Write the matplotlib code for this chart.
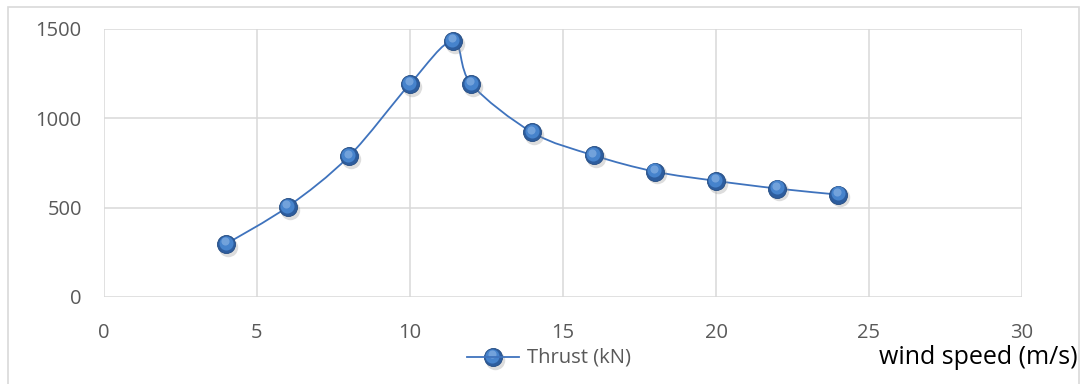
import matplotlib
matplotlib.use('Agg')
import matplotlib.pyplot as plt
from matplotlib.path import Path
from matplotlib.patches import PathPatch, Rectangle
from matplotlib.lines import Line2D
from matplotlib import transforms

# wind speed (m/s) and thrust (kN)
wind_speed = [4, 6, 8, 10, 11.4, 12, 14, 16, 18, 20, 22, 24]
thrust = [298, 505, 787, 1193, 1432, 1192, 921, 793, 702, 650, 607, 573]

x_ticks = [0, 5, 10, 15, 20, 25, 30]
y_ticks = [0, 500, 1000, 1500]

LINE = '#3f73bd'
GRID = '#d9d9d9'
TICK = '#595959'
FONT = ['Open Sans', 'DejaVu Sans']


def smooth_path(xs, ys):
    # Excel-style smoothed line: cubic Bezier through each point
    verts = [(xs[0], ys[0])]
    codes = [Path.MOVETO]
    n = len(xs)
    for i in range(n - 1):
        x0, y0 = (xs[i - 1], ys[i - 1]) if i > 0 else (xs[i], ys[i])
        x1, y1 = xs[i], ys[i]
        x2, y2 = xs[i + 1], ys[i + 1]
        x3, y3 = (xs[i + 2], ys[i + 2]) if i + 2 < n else (x2, y2)
        c1 = (x1 + (x2 - x0) / 6, y1 + (y2 - y0) / 6)
        c2 = (x2 - (x3 - x1) / 6, y2 - (y3 - y1) / 6)
        verts += [c1, c2, (x2, y2)]
        codes += [Path.CURVE4] * 3
    return Path(verts, codes)


def spheres(ax, xs, ys, size, trans=None, zorder=4):
    # fake 3D ball: shadow, dark rim, lighter body, soft highlight
    base = trans if trans is not None else ax.transData
    fig = ax.figure
    shadow = transforms.offset_copy(base, fig=fig, x=1.5, y=-2.0, units='points')
    mid = transforms.offset_copy(base, fig=fig, x=-0.5, y=0.9, units='points')
    hi = transforms.offset_copy(base, fig=fig, x=-0.8, y=2.0, units='points')
    ax.plot(xs, ys, 'o', ms=size + 1, color='#8f8f8f', alpha=0.3, mec='none',
            transform=shadow, zorder=zorder, clip_on=False)
    ax.plot(xs, ys, 'o', ms=size, color='#2d5d9e', mec='#244c82', mew=0.6,
            transform=base, zorder=zorder + 0.1, clip_on=False)
    ax.plot(xs, ys, 'o', ms=size * 0.78, color='#4683cc', mec='none',
            transform=mid, zorder=zorder + 0.2, clip_on=False)
    ax.plot(xs, ys, 'o', ms=size * 0.45, color='#7eaae0', mec='none', alpha=0.8,
            transform=hi, zorder=zorder + 0.3, clip_on=False)


fig = plt.figure(figsize=(10.83, 3.84), dpi=100)
ax = fig.add_axes([104 / 1083, 1 - 297 / 384, (1022 - 104) / 1083, (297 - 29) / 384])

ax.set_xlim(0, 30)
ax.set_ylim(0, 1500)
ax.set_xticks(x_ticks)
ax.set_yticks(y_ticks)
ax.grid(True, color=GRID, linewidth=1.1)
ax.set_axisbelow(True)
for s in ax.spines.values():
    s.set_visible(False)
ax.tick_params(length=0, labelsize=14.5, labelcolor=TICK)
ax.tick_params(axis='x', pad=19)
ax.tick_params(axis='y', pad=16)
for lab in ax.get_xticklabels() + ax.get_yticklabels():
    lab.set_family(FONT)

ax.add_patch(PathPatch(smooth_path(wind_speed, thrust), fill=False,
                       edgecolor=LINE, linewidth=1.3, zorder=3))
spheres(ax, wind_speed, thrust, 13)

# legend drawn by hand, centred under the plot
ly = 1 - 357 / 384
fig.add_artist(Line2D([467 / 1083, 519 / 1083], [ly, ly], color=LINE,
                      linewidth=1.3, transform=fig.transFigure))
spheres(ax, [493 / 1083], [ly], 13, trans=fig.transFigure, zorder=6)
fig.text(527 / 1083, ly, 'Thrust (kN)', fontsize=14.5, color=TICK,
         family=FONT, va='center', ha='left')

fig.text(1078 / 1083, 1 - 357 / 384, 'wind speed (m/s)', fontsize=18,
         color='black', family=FONT, va='center', ha='right')

# chart frame
fig.add_artist(Rectangle((8 / 1083, -0.01), (1079 - 8) / 1083, 1 - 7 / 384 + 0.01,
                         transform=fig.transFigure, fill=False,
                         edgecolor=GRID, linewidth=1.2))

fig.savefig('out.png', dpi=100)
